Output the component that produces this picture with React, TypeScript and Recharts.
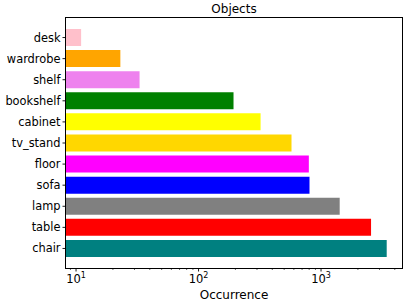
import { Bar, BarChart, Cell, XAxis, YAxis } from "recharts";

const categories = ["desk", "wardrobe", "shelf", "bookshelf", "cabinet", "tv_stand", "floor", "sofa", "lamp", "table", "chair"];
const counts = [11, 23, 33, 193, 321, 574, 795, 805, 1420, 2560, 3436];
const barColors = ["#ffc0cb", "#ffa500", "#ee82ee", "#008000", "#ffff00", "#ffd700", "#ff00ff", "#0000ff", "#808080", "#ff0000", "#008080"];
const xTicks = [9, 10, 20, 30, 40, 50, 60, 70, 80, 90, 100, 200, 300, 400, 500, 600, 700, 800, 900, 1000, 2000, 3000, 4000];

const data = categories.map((name, i) => ({ name, count: counts[i] }));

const FONT = "'DejaVu Sans', sans-serif";

function XTick({ x, y, payload }: any) {
  const v = payload.value as number;
  const exp = Math.log10(v);
  const major = Math.abs(exp - Math.round(exp)) < 1e-9;
  return (
    <g>
      <line x1={x} x2={x} y1={y} y2={y + (major ? 3.5 : 2)} stroke="#000" strokeWidth={major ? 0.9 : 0.6} />
      {major && (
        <text x={x} y={y + 15} textAnchor="middle" fontFamily={FONT} fontSize={11.5} fill="#000">
          10
          <tspan fontSize={8} dy={-5}>{Math.round(exp)}</tspan>
        </text>
      )}
    </g>
  );
}

function YTick({ x, y, payload }: any) {
  return (
    <g>
      <line x1={x - 3.5} x2={x} y1={y} y2={y} stroke="#000" strokeWidth={0.9} />
      <text x={x - 5.5} y={y} dy={4} textAnchor="end" fontFamily={FONT} fontSize={11.4} fill="#000">
        {payload.value}
      </text>
    </g>
  );
}

export default function App() {
  return (
    <div style={{ position: "fixed", left: 0, top: 0, width: 407, height: 304, background: "#fff" }}>
      <div
        style={{
          position: "absolute",
          left: 66,
          width: 336,
          top: 2,
          textAlign: "center",
          fontFamily: FONT,
          fontSize: 12,
          color: "#000",
        }}
      >
        Objects
      </div>
      <BarChart
        width={407}
        height={304}
        data={data}
        layout="vertical"
        margin={{ top: 18, right: 5, bottom: 0, left: 0 }}
      >
        <XAxis
          type="number"
          dataKey="count"
          scale="log"
          domain={[8.28, 4580]}
          allowDataOverflow
          ticks={xTicks}
          interval={0}
          height={36}
          tickSize={0}
          tickMargin={0}
          tickLine={false}
          axisLine={false}
          tick={<XTick />}
          label={{ value: "Occurrence", position: "insideBottom", offset: 5, fontFamily: FONT, fontSize: 12, fill: "#000" }}
        />
        <YAxis
          type="category"
          dataKey="name"
          width={66}
          interval={0}
          padding={{ top: 9, bottom: 9 }}
          tickSize={0}
          tickMargin={0}
          tickLine={false}
          axisLine={false}
          tick={<YTick />}
        />
        <Bar dataKey="count" barSize={17} isAnimationActive={false}>
          {data.map((d, i) => (
            <Cell key={d.name} fill={barColors[i]} />
          ))}
        </Bar>
      </BarChart>
      <div
        style={{
          position: "absolute",
          left: 65,
          top: 17,
          width: 338,
          height: 252,
          boxSizing: "border-box",
          border: "1px solid #000",
          pointerEvents: "none",
        }}
      />
    </div>
  );
}
